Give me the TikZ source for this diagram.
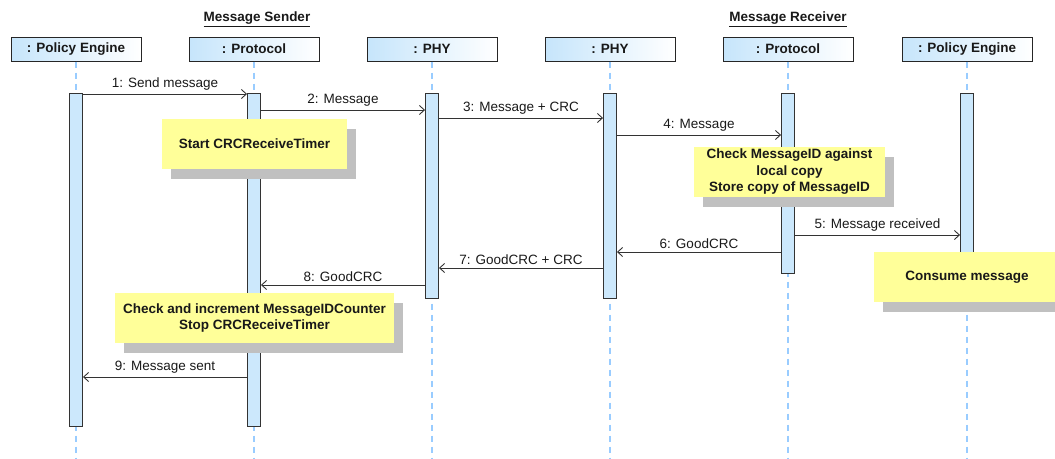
\documentclass[tikz,border=0pt]{standalone}
\usepackage{fontspec}
\setmainfont{Liberation Sans}
\usetikzlibrary{arrows.meta,shadows}
\definecolor{headblue}{HTML}{C6E5FB}
\definecolor{actblue}{HTML}{CCE8FC}
\definecolor{lifeblue}{HTML}{99CCFF}
\definecolor{noteyellow}{HTML}{FFFF99}
\definecolor{shadowgray}{HTML}{C0C0C0}
\definecolor{edgegray}{HTML}{333333}
\tikzset{
  every node/.style={font=\fontsize{13.5}{16.5}\selectfont, text=black!90},
  head/.style={draw=black!85, line width=1pt, left color=headblue, right color=white,
    minimum width=130pt, minimum height=24pt, inner sep=0pt, font=\fontsize{13.5}{16.5}\selectfont\bfseries},
  grouptitle/.style={font=\fontsize{13.5}{16.5}\selectfont\bfseries, inner sep=0pt},
  life/.style={draw=lifeblue, line width=2pt, dash pattern=on 6pt off 5pt},
  act/.style={draw=edgegray, fill=actblue, line width=0.9pt, minimum width=13pt, inner sep=0pt},
  msg/.style={draw=edgegray, line width=0.9pt, -{Straight Barb[length=5pt,width=9pt,line width=0.9pt]}},
  note/.style={fill=noteyellow, inner sep=0pt, align=center, minimum height=50pt,
    font=\fontsize{13.5}{16.5}\selectfont\bfseries,
    drop shadow={shadow xshift=9pt, shadow yshift=-10pt, fill=shadowgray, opacity=1}},
  lbl/.style={above, inner sep=3pt}
}
\begin{document}
\begin{tikzpicture}[x=1pt,y=-1pt]
\useasboundingbox (0,0) rectangle (1055,458);
\coordinate (bot) at (0,458);
% group titles
\node[grouptitle] (ts) at (257,19) {\underline{Message Sender}};
\node[grouptitle] (tr) at (788,19) {\underline{Message Receiver}};
% heads
\node[head] (h1) at (76,49) {: Policy Engine};
\node[head] (h2) at (254,49) {: Protocol};
\node[head] (h3) at (432,49) {: PHY};
\node[head] (h4) at (610,49) {: PHY};
\node[head] (h5) at (788,49) {: Protocol};
\node[head] (h6) at (967,49) {: Policy Engine};
% lifelines
\foreach \h in {h1,h2,h3,h4,h5,h6}{
  \draw[life] (\h.south) -- (\h.south |- bot);
}
% activations
\node[act, minimum height=333pt] (a1) at (76,259.5) {};
\node[act, minimum height=333pt] (a2) at (254,259.5) {};
\node[act, minimum height=205pt] (a3) at (432,195.5) {};
\node[act, minimum height=205pt] (a4) at (610,195.5) {};
\node[act, minimum height=180pt] (a5) at (788,183) {};
\node[act, minimum height=197pt] (a6) at (967,191.5) {};
% message levels
\coordinate (m1) at (0,94);
\coordinate (m2) at (0,110);
\coordinate (m3) at (0,118);
\coordinate (m4) at (0,135);
\coordinate (m5) at (0,235);
\coordinate (m6) at (0,252);
\coordinate (m7) at (0,268);
\coordinate (m8) at (0,285);
\coordinate (m9) at (0,377);
% messages
\draw[msg] (a1.east |- m1) -- (a2.west |- m1) node[lbl, midway] {1: Send message};
\draw[msg] (a2.east |- m2) -- (a3.west |- m2) node[lbl, midway] {2: Message};
\draw[msg] (a3.east |- m3) -- (a4.west |- m3) node[lbl, midway] {3: Message + CRC};
\draw[msg] (a4.east |- m4) -- (a5.west |- m4) node[lbl, midway] {4: Message};
\draw[msg] (a5.east |- m5) -- (a6.west |- m5) node[lbl, midway] {5: Message received};
\draw[msg] (a5.west |- m6) -- (a4.east |- m6) node[lbl, midway] {6: GoodCRC};
\draw[msg] (a4.west |- m7) -- (a3.east |- m7) node[lbl, midway] {7: GoodCRC + CRC};
\draw[msg] (a3.west |- m8) -- (a2.east |- m8) node[lbl, midway] {8: GoodCRC};
\draw[msg] (a2.west |- m9) -- (a1.east |- m9) node[lbl, midway] {9: Message sent};
% notes
\node[note, minimum width=185pt] (n1) at (254.5,143.5) {Start CRCReceiveTimer};
\node[note, minimum width=191pt] (n2) at (789.5,172) {Check MessageID against\\local copy\\Store copy of MessageID};
\node[note, minimum width=186pt] (n3) at (967,277) {Consume message};
\node[note, minimum width=279pt] (n4) at (254.5,318) {Check and increment MessageIDCounter\\Stop CRCReceiveTimer};
\end{tikzpicture}
\end{document}
